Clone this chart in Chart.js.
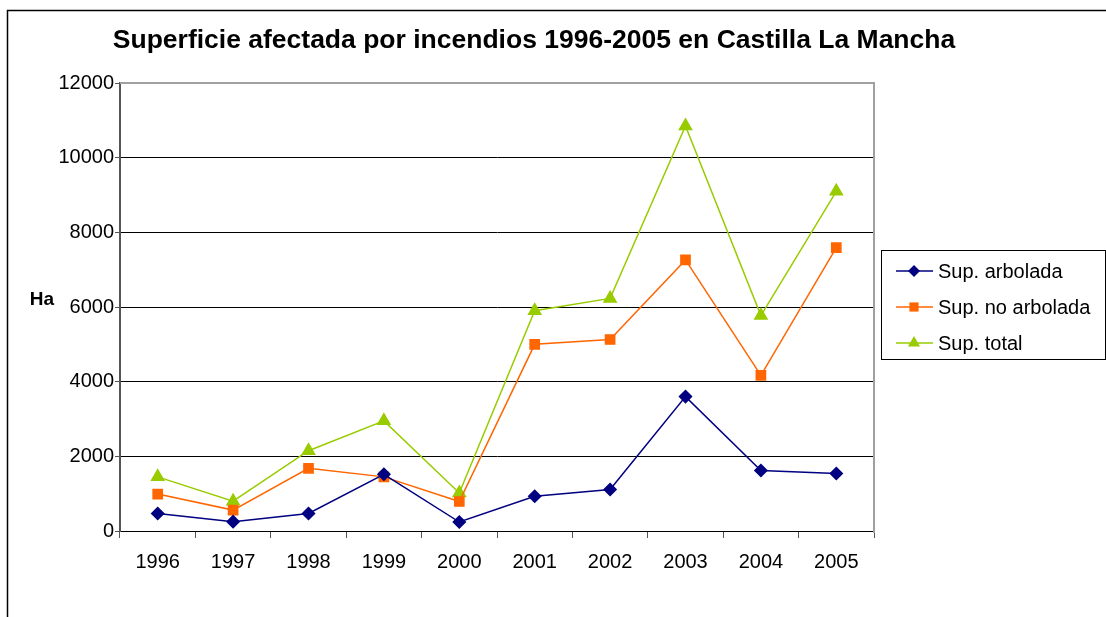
<!DOCTYPE html>
<html>
<head>
<meta charset="utf-8">
<script src="https://cdn.jsdelivr.net/npm/chart.js@4/dist/chart.umd.min.js"></script>
<style>
  html, body { margin: 0; padding: 0; background: #fff; }
  #wrap { width: 1106px; height: 617px; }
</style>
</head>
<body>
<div id="wrap"><canvas id="grafico" width="1106" height="617"></canvas></div>
<script>
const anos = ['1996', '1997', '1998', '1999', '2000', '2001', '2002', '2003', '2004', '2005'];
const supArbolada = [470, 250, 470, 1520, 240, 930, 1110, 3600, 1620, 1540];
const supNoArbolada = [990, 560, 1680, 1450, 790, 5000, 5130, 7260, 4170, 7590];
const supTotal = [1450, 800, 2150, 2950, 1020, 5900, 6230, 10850, 5770, 9100];
const ticksY = [0, 2000, 4000, 6000, 8000, 10000, 12000];

const titulo = 'Superficie afectada por incendios 1996-2005 en Castilla La Mancha';
const fuente = '"Liberation Sans", Arial, sans-serif';

// marco, titulo, "Ha" y leyenda al estilo Excel
const extras = {
    id: 'extras',
    afterDraw(chart) {
        const ctx = chart.ctx;
        const area = chart.chartArea;
        ctx.save();

        // borde exterior (solo izquierda y arriba se ven)
        ctx.strokeStyle = '#000';
        ctx.lineWidth = 1.5;
        ctx.beginPath();
        ctx.moveTo(7.5, 620);
        ctx.lineTo(7.5, 10.5);
        ctx.lineTo(1110, 10.5);
        ctx.stroke();

        // borde gris del area de trazado
        ctx.strokeStyle = '#a0a0a0';
        ctx.lineWidth = 2;
        ctx.beginPath();
        ctx.moveTo(area.left, area.top);
        ctx.lineTo(area.right, area.top);
        ctx.lineTo(area.right, area.bottom + 2);
        ctx.stroke();

        ctx.fillStyle = '#000';
        ctx.font = 'bold 26.5px ' + fuente;
        ctx.textAlign = 'center';
        ctx.textBaseline = 'alphabetic';
        ctx.fillText(titulo, 534, 48);

        ctx.textBaseline = 'middle';
        ctx.font = 'bold 19px ' + fuente;
        ctx.fillText('Ha', 42, 300);

        // leyenda
        ctx.strokeStyle = '#000';
        ctx.lineWidth = 1;
        ctx.strokeRect(881.5, 250.5, 224, 109);
        ctx.textAlign = 'left';
        ctx.font = '20px ' + fuente;
        chart.data.datasets.forEach((ds, i) => {
            const y = 271 + i * 36;
            ctx.strokeStyle = ds.borderColor;
            ctx.lineWidth = 1.5;
            ctx.beginPath();
            ctx.moveTo(896, y);
            ctx.lineTo(933, y);
            ctx.stroke();
            ctx.fillStyle = ds.backgroundColor;
            Chart.helpers.drawPoint(ctx, {
                pointStyle: ds.pointStyle,
                radius: ds.pointRadius,
                borderWidth: 0,
                rotation: 0
            }, 914, y);
            ctx.fillStyle = '#000';
            ctx.fillText(ds.label, 938, y + 1);
        });
        ctx.restore();
    }
};

new Chart(document.getElementById('grafico').getContext('2d'), {
    type: 'line',
    data: {
        labels: anos,
        datasets: [{
            label: 'Sup. arbolada',
            data: supArbolada,
            borderColor: '#000080',
            backgroundColor: '#000080',
            pointStyle: 'rectRot',
            pointRadius: 6,
            borderWidth: 1.5,
            tension: 0
        }, {
            label: 'Sup. no arbolada',
            data: supNoArbolada,
            borderColor: '#ff6600',
            backgroundColor: '#ff6600',
            pointStyle: 'rect',
            pointRadius: 6.5,
            borderWidth: 1.5,
            tension: 0
        }, {
            label: 'Sup. total',
            data: supTotal,
            borderColor: '#99cc00',
            backgroundColor: '#99cc00',
            pointStyle: 'triangle',
            pointRadius: 7,
            borderWidth: 1.5,
            tension: 0
        }]
    },
    options: {
        responsive: false,
        animation: false,
        devicePixelRatio: 1,
        layout: {
            padding: { left: 60, right: 232, top: 83, bottom: 0 }
        },
        elements: {
            point: { borderWidth: 0, hoverRadius: 6 }
        },
        plugins: {
            legend: { display: false },
            title: { display: false },
            tooltip: { enabled: false }
        },
        scales: {
            x: {
                type: 'category',
                offset: true,
                afterFit(scale) { scale.height = 86; },
                grid: {
                    offset: true,
                    drawOnChartArea: false,
                    drawTicks: true,
                    tickLength: 7,
                    color: '#555'
                },
                border: { color: '#000', width: 1 },
                ticks: {
                    color: '#000',
                    padding: 12,
                    maxRotation: 0,
                    font: { family: fuente, size: 20 }
                }
            },
            y: {
                min: 0,
                max: 12000,
                afterFit(scale) { scale.width = 60; },
                afterBuildTicks(scale) {
                    scale.ticks = ticksY.map(v => ({ value: v }));
                },
                grid: {
                    color: '#000',
                    lineWidth: 1,
                    drawTicks: true,
                    tickLength: 5,
                    tickColor: '#555'
                },
                border: { color: '#555', width: 2 },
                ticks: {
                    color: '#000',
                    padding: 1,
                    font: { family: fuente, size: 20 },
                    callback: v => String(v)
                }
            }
        }
    },
    plugins: [extras]
});
</script>
</body>
</html>
